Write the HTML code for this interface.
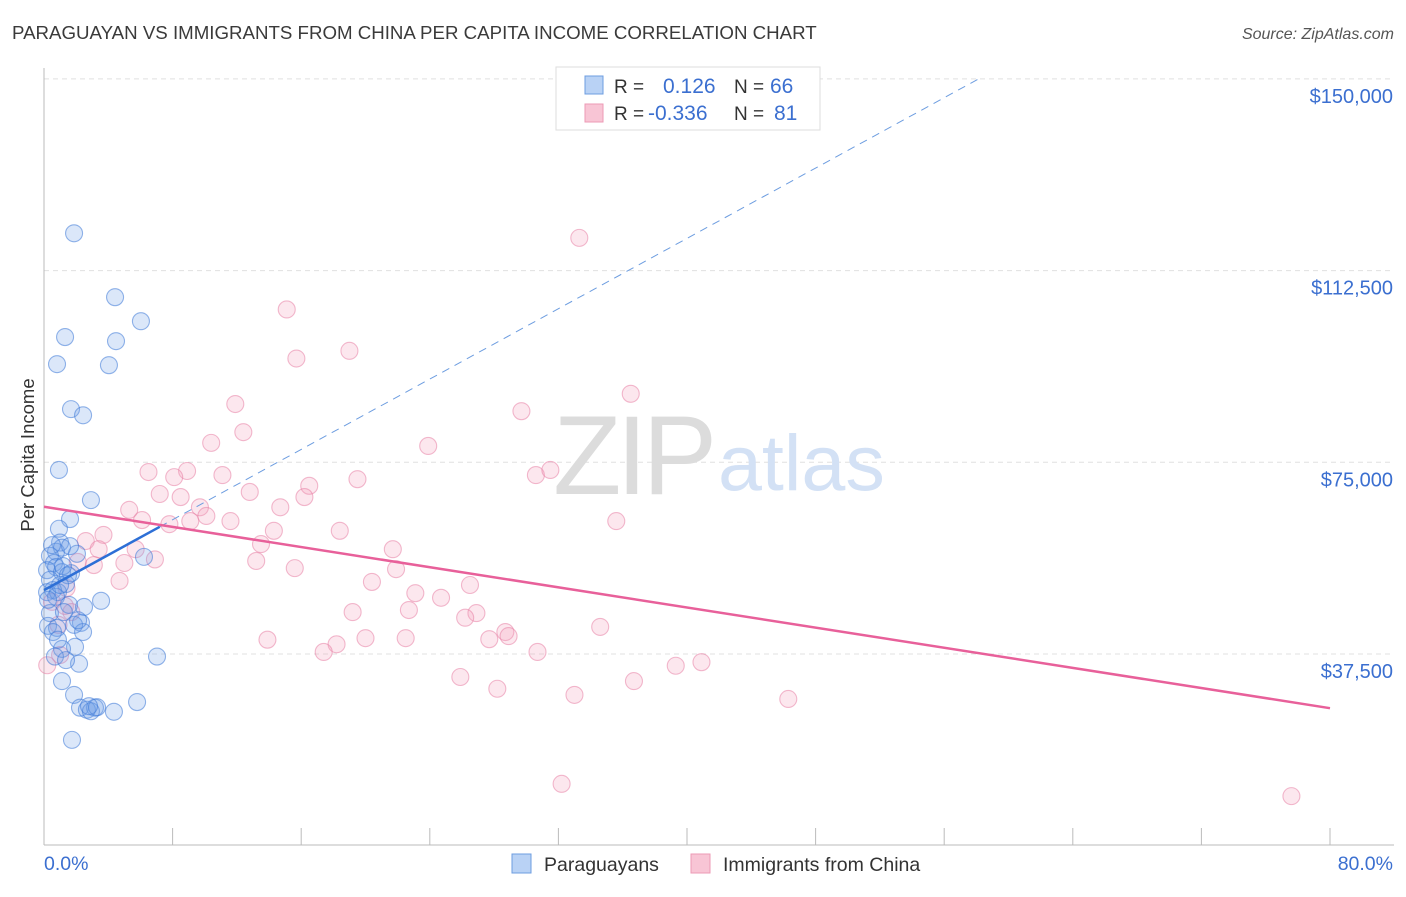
<!DOCTYPE html>
<html><head><meta charset="utf-8"><style>
body{margin:0;background:#fff;font-family:"Liberation Sans",sans-serif;}
svg text{font-family:"Liberation Sans",sans-serif;}
</style></head><body>
<svg id="chart" width="1406" height="892" xmlns="http://www.w3.org/2000/svg">
<text x="12" y="39" font-size="18.7" fill="#3a3a3a">PARAGUAYAN VS IMMIGRANTS FROM CHINA PER CAPITA INCOME CORRELATION CHART</text>
<text x="1394" y="39" font-size="16" fill="#555" font-style="italic" text-anchor="end">Source: ZipAtlas.com</text>
<g id="grid"></g>
<g>
<text x="553" y="494" font-size="112" fill="#dcdcdc" font-family="Liberation Serif" letter-spacing="-5">ZIP</text>
<text x="718" y="490" font-size="79" fill="#d3e1f5">atlas</text>
</g>
<g id="axes"></g>
<g id="pts"></g>
<g id="lines"></g>
<text transform="translate(34,455) rotate(-90)" font-size="18.5" fill="#333" text-anchor="middle">Per Capita Income</text>
<g>
<rect x="556" y="67" width="264" height="63" fill="#fff" stroke="#ddd"/>
<rect x="585" y="76" width="18" height="18" fill="#b9d2f5" stroke="#6d9de0"/>
<rect x="585" y="104" width="18" height="18" fill="#f8c5d5" stroke="#ec9ab5"/>
<text x="614" y="93" font-size="19" fill="#333">R =</text>
<text x="663" y="93" font-size="21" fill="#3b6fd0">0.126</text>
<text x="734" y="93" font-size="19" fill="#333">N =</text>
<text x="770" y="93" font-size="21" fill="#3b6fd0">66</text>
<text x="614" y="120" font-size="19" fill="#333">R =</text>
<text x="648" y="120" font-size="21" fill="#3b6fd0">-0.336</text>
<text x="734" y="120" font-size="19" fill="#333">N =</text>
<text x="774" y="120" font-size="21" fill="#3b6fd0">81</text>
</g>
<g>
<rect x="512" y="854" width="19" height="19" fill="#b9d2f5" stroke="#6d9de0"/>
<text x="544" y="871" font-size="19.5" fill="#333">Paraguayans</text>
<rect x="691" y="854" width="19" height="19" fill="#f8c5d5" stroke="#ec9ab5"/>
<text x="723" y="871" font-size="19.5" fill="#333">Immigrants from China</text>
</g>
</svg>
<script>
const yTicks=[37500,75000,112500,150000];
const yTickLabels=["$37,500","$75,000","$112,500","$150,000"];
const xTicks=[0,8,16,24,32,40,48,56,64,72,80];
const xLabels=["0.0%","80.0%"];
const bluePct=[1.87,4.42,6.03,1.31,4.48,0.81,4.04,1.68,2.43,0.93,2.92,1.62,0.93,1.00,0.75,1.12,2.05,0.37,0.62,1.62,0.75,0.19,1.12,1.68,0.37,1.37,0.56,0.19,0.87,0.75,1.56,2.49,3.55,0.37,1.24,0.25,2.30,0.81,1.87,2.43,0.56,1.93,1.12,0.68,2.18,7.03,1.12,1.87,2.24,3.17,2.67,2.92,3.30,4.35,5.79,1.74,6.22,1.18,0.25,0.87,1.37,2.80,0.50,1.49,1.00,2.12];
const blueInc=[119.8,107.3,102.6,99.5,98.7,94.2,94.0,85.4,84.2,73.5,67.6,63.9,62.0,59.3,57.5,58.3,57.1,56.7,55.3,58.6,54.5,53.9,53.5,53.3,52.0,51.2,50.0,49.6,49.6,48.7,47.1,46.7,47.9,45.5,45.7,43.0,43.6,42.6,43.2,41.8,41.8,38.9,38.5,37.0,35.6,37.0,32.2,29.5,27.0,27.0,26.6,26.3,27.1,26.2,28.1,20.7,56.5,54.7,48.1,40.3,36.3,27.3,58.8,52.9,51.0,44.1];
const pinkPct=[33.3,15.1,15.7,19.0,36.5,11.9,29.7,12.4,23.9,10.4,30.6,31.5,19.5,6.5,8.9,8.1,11.1,16.5,7.2,8.5,12.8,16.2,9.7,14.7,5.3,6.1,10.1,9.1,35.6,11.6,7.8,18.4,14.3,3.7,2.6,13.5,21.7,3.4,5.7,6.9,13.2,5.0,2.1,3.1,21.9,15.6,4.7,20.4,26.5,1.4,23.1,24.7,0.5,1.3,22.7,19.2,26.9,26.2,28.7,34.6,28.9,13.9,20.0,22.5,27.7,18.2,17.4,30.7,1.0,0.2,39.3,40.9,25.9,36.7,28.2,33.0,46.3,32.2,77.6,0.9,1.7];
const pinkInc=[118.9,104.9,95.3,96.8,88.4,86.4,85.0,80.9,78.2,78.8,72.5,73.5,71.7,73.1,73.3,72.1,72.5,70.4,68.8,68.2,69.2,68.2,66.2,66.2,65.7,63.7,64.5,63.5,63.5,63.5,62.9,61.6,61.6,60.8,59.6,59.0,58.0,58.0,58.0,56.0,55.7,55.3,55.5,54.9,54.1,54.3,51.8,51.6,51.0,50.4,49.4,48.5,47.7,46.9,46.1,45.7,45.5,44.6,41.8,42.8,41.0,40.3,40.6,40.6,40.4,39.4,37.9,37.9,37.3,35.3,35.2,35.9,33.0,32.2,30.7,29.5,28.7,12.1,9.7,43.2,45.7];
const blueTrend=[50.0,1.72];
const pinkTrend=[66.3,-0.4925];

const NS="http://www.w3.org/2000/svg";
const X=p=>44+p*16.075;
const Y=v=>845.7-v*0.005112;
const Yk=k=>Y(k*1000);
function mk(tag,attrs,parent){const e=document.createElementNS(NS,tag);for(const k in attrs)e.setAttribute(k,attrs[k]);parent.appendChild(e);return e;}
const grid=document.getElementById('grid'),axes=document.getElementById('axes'),pts=document.getElementById('pts'),lines=document.getElementById('lines');
yTicks.forEach((t,i)=>{
  const l=mk('line',{x1:44,x2:1394,y1:Y(t),y2:Y(t),stroke:'#e0e0e0','stroke-dasharray':'5,4'},grid);
  
  
  const tx=mk('text',{x:1393,y:Y(t)+24,'font-size':20,fill:'#3b6fd0','text-anchor':'end'},axes);
  tx.textContent=yTickLabels[i];
  
  
});
const ya=mk('line',{x1:44,x2:44,y1:68,y2:845,stroke:'#bbb'},axes);


const xa=mk('line',{x1:44,x2:1394,y1:845,y2:845,stroke:'#bbb'},axes);


xTicks.forEach(t=>{
  const l=mk('line',{x1:X(t),x2:X(t),y1:828,y2:845,stroke:'#bbb'},axes);
  
  
});
const xl0=mk('text',{x:44,y:870,'font-size':19.5,fill:'#3b6fd0'},axes);xl0.textContent=xLabels[0];


const xl1=mk('text',{x:1393,y:870,'font-size':19.5,fill:'#3b6fd0','text-anchor':'end'},axes);xl1.textContent=xLabels[1];


function dots(px,py,fill,stroke,name){
  px.forEach((p,i)=>{
    const c=mk('circle',{cx:X(p),cy:Yk(py[i]),r:8.5,fill:fill,stroke:stroke,'stroke-width':1.1},pts);
    
    
  });
}
dots(pinkPct,pinkInc,'rgba(242,160,188,0.25)','rgba(232,130,165,0.55)','china-point');
dots(bluePct,blueInc,'rgba(110,160,230,0.25)','rgba(60,120,215,0.55)','paraguayan-point');
const bEnd=7.2, bDash=(150-blueTrend[0])/blueTrend[1];
const bl=mk('line',{x1:X(0),y1:Yk(blueTrend[0]),x2:X(bEnd),y2:Yk(blueTrend[0]+blueTrend[1]*bEnd),stroke:'#2d6fd6','stroke-width':2.5},lines);


const bd=mk('line',{x1:X(bEnd),y1:Yk(blueTrend[0]+blueTrend[1]*bEnd),x2:X(bDash),y2:Yk(150),stroke:'#6d9de0','stroke-width':1,'stroke-dasharray':'8,6'},lines);


const pl=mk('line',{x1:X(0),y1:Yk(pinkTrend[0]),x2:X(80),y2:Yk(pinkTrend[0]+pinkTrend[1]*80),stroke:'#e8609a','stroke-width':2.5},lines);


</script>
</body></html>
